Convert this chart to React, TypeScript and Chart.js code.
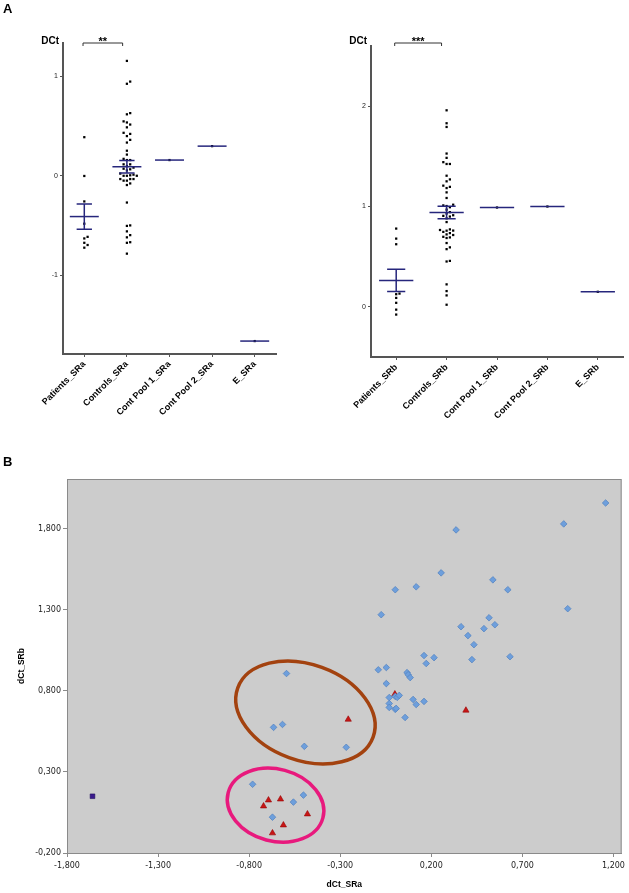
import React, { useEffect, useRef } from 'react';
import { Chart, registerables } from 'chart.js';

Chart.register(...registerables);

// ---------- DATA ----------
const labelsSRa = ['Patients_SRa', 'Controls_SRa', 'Cont Pool 1_SRa', 'Cont Pool 2_SRa', 'E_SRa'];
const labelsSRb = ['Patients_SRb', 'Controls_SRb', 'Cont Pool 1_SRb', 'Cont Pool 2_SRb', 'E_SRb'];

// paired patient values (SRa, SRb)
const patientsSRa = [0.39, 0.0, -0.256, -0.48, -0.612, -0.628, -0.672, -0.694, -0.721];
const patientsSRb = [0.68, 0.78, 0.624, 0.04, -0.028, 0.132, -0.077, 0.126, 0.089];

// paired control values (SRa, SRb)
const controlsSRa = [
  1.157, 0.927, 0.336, 0.254, 0.002, 0.117, 0.538, 0.62, 0.949, -0.075, 0.517, 0.549,
  0.363, 0.489, 0.401, 0.434, 0.16, 0.215, 0.172, 0.423, 0.632, -0.091, -0.047, -0.047,
  0.067, 0.073, 0.084, -0.031, 0.002, 0.013, 0.024, -0.031, -0.031, 0.002, 0.007, 0.1,
  0.117, 0.16, 0.056, -0.267, -0.497, -0.502, -0.595, -0.666, -0.617, -0.781, -0.557, -0.672,
];
const controlsSRb = [
  1.959, 1.83, 1.793, 1.528, 1.424, 1.442, 1.485, 1.424, 1.307, 1.27, 1.251, 1.208,
  1.196, 1.184, 1.141, 1.085, 1.018, 1.005, 0.969, 0.993, 1.011, 0.93, 0.944, 0.845,
  0.913, 0.9, 0.882, 0.759, 0.766, 0.76, 0.772, 0.722, 0.698, 0.686, 0.692, 0.747,
  0.716, 0.735, 0.636, 0.452, 0.458, 0.157, 0.907, 0.575, 0.593, 0.224, 0.114, 0.021,
];

const pool1SRa = [0.16];
const pool2SRa = [0.3];
const eSRa = [-1.66];
const pool1SRb = [0.99];
const pool2SRb = [1.0];
const eSRb = [0.15];

const yTicksSRa = [-1, 0, 1];
const yTicksSRb = [0, 1, 2];
const starsSRa = '**';
const starsSRb = '***';

const scatterXTicks = [-1.8, -1.3, -0.8, -0.3, 0.2, 0.7, 1.2];
const scatterYTicks = [-0.2, 0.3, 0.8, 1.3, 1.8];

// ---------- STYLE ----------
const ARIAL = "'Liberation Sans', Arial, sans-serif";
const VERDANA = "'DejaVu Sans', Verdana, sans-serif";
const NAVY = '#26267c';
const AXIS = '#555555';

function swarmOffsets(values: number[], pxPerUnit: number, pxPerCat: number, step: number): number[] {
  const order = values.map((_, i) => i).sort((a, b) => values[a] - values[b]);
  const placed: { x: number; y: number }[] = [];
  const offs = new Array(values.length).fill(0);
  for (const i of order) {
    const y = values[i] * pxPerUnit;
    for (let k = 0; k < 40; k++) {
      const s = k === 0 ? 0 : k % 2 === 1 ? Math.ceil(k / 2) : -Math.ceil(k / 2);
      const x = s * step;
      if (placed.every((p) => Math.hypot(p.x - x, p.y - y) >= step - 0.01)) {
        placed.push({ x, y });
        offs[i] = x / pxPerCat;
        break;
      }
    }
  }
  return offs;
}

function buildPoints(groups: number[][], pxPerUnit: number, pxPerCat: number) {
  const pts: { x: number; y: number }[] = [];
  groups.forEach((vals, gi) => {
    const offs = vals.length > 1 ? swarmOffsets(vals, pxPerUnit, pxPerCat, 3.3) : vals.map(() => 0);
    vals.forEach((v, k) => pts.push({ x: gi + offs[k], y: v }));
  });
  return pts;
}

type DotProps = {
  labels: string[];
  groups: number[][];
  yMin: number;
  yMax: number;
  yTicks: number[];
  stars: string;
  left: number;
  width: number;
  height: number;
  yAxisWidth: number;
  padTop: number;
  padRight: number;
  xAxisHeight: number;
  pxPerUnit: number;
  pxPerCat: number;
};

function DotPlot(p: DotProps) {
  const ref = useRef<HTMLCanvasElement>(null);
  useEffect(() => {
    const points = buildPoints(p.groups, p.pxPerUnit, p.pxPerCat);
    const statsPlugin = {
      id: 'stats',
      afterDatasetsDraw(chart: any) {
        const { ctx, scales } = chart;
        const x = scales.x;
        const y = scales.y;
        ctx.save();
        ctx.strokeStyle = NAVY;
        ctx.lineWidth = 1.5;
        p.groups.forEach((vals, i) => {
          const n = vals.length;
          const mean = vals.reduce((a, b) => a + b, 0) / n;
          const cx = x.getPixelForValue(i);
          const w = x.getPixelForValue(i + 0.34) - cx;
          const cw = x.getPixelForValue(i + 0.18) - cx;
          const my = y.getPixelForValue(mean);
          ctx.beginPath();
          ctx.moveTo(cx - w, my);
          ctx.lineTo(cx + w, my);
          ctx.stroke();
          if (n > 1) {
            const sd = Math.sqrt(vals.reduce((a, b) => a + (b - mean) ** 2, 0) / (n - 1));
            const sem = sd / Math.sqrt(n);
            const t = y.getPixelForValue(mean + sem);
            const b = y.getPixelForValue(mean - sem);
            ctx.beginPath();
            ctx.moveTo(cx, t);
            ctx.lineTo(cx, b);
            ctx.moveTo(cx - cw, t);
            ctx.lineTo(cx + cw, t);
            ctx.moveTo(cx - cw, b);
            ctx.lineTo(cx + cw, b);
            ctx.stroke();
          }
        });
        ctx.restore();
      },
      afterDraw(chart: any) {
        const { ctx, scales, chartArea } = chart;
        const x = scales.x;
        const x0 = x.getPixelForValue(-0.03);
        const x1 = x.getPixelForValue(0.9);
        const yb = 43;
        ctx.save();
        ctx.strokeStyle = '#333';
        ctx.lineWidth = 1;
        ctx.beginPath();
        ctx.moveTo(x0, yb + 3);
        ctx.lineTo(x0, yb);
        ctx.lineTo(x1, yb);
        ctx.lineTo(x1, yb + 3);
        ctx.stroke();
        ctx.fillStyle = '#000';
        ctx.font = `bold 11px ${ARIAL}`;
        ctx.textAlign = 'center';
        ctx.textBaseline = 'alphabetic';
        ctx.fillText(p.stars, (x0 + x1) / 2, yb + 1.5);
        ctx.font = `bold 10px ${ARIAL}`;
        ctx.textAlign = 'right';
        ctx.fillText('DCt', chartArea.left - 4, 43.5);
        ctx.restore();
      },
    };
    const chart = new Chart(ref.current!, {
      type: 'scatter',
      data: {
        datasets: [
          {
            data: points,
            pointStyle: 'rect',
            pointRadius: 1.6,
            pointHoverRadius: 1.6,
            backgroundColor: '#000',
            borderColor: '#000',
            borderWidth: 0,
          },
        ],
      },
      options: {
        responsive: false,
        animation: false,
        events: [],
        layout: { padding: { top: p.padTop, right: p.padRight, left: 0, bottom: 0 } },
        plugins: { legend: { display: false }, tooltip: { enabled: false } },
        scales: {
          x: {
            type: 'linear',
            min: -0.5,
            max: p.labels.length - 0.5,
            afterBuildTicks: (s: any) => {
              s.ticks = p.labels.map((_, i) => ({ value: i }));
            },
            afterFit: (s: any) => {
              s.height = p.xAxisHeight;
            },
            ticks: {
              autoSkip: false,
              minRotation: 45,
              maxRotation: 45,
              padding: 2,
              color: '#000',
              font: { family: ARIAL, size: 9, weight: 'bold' },
              callback: (v: any) => p.labels[Math.round(Number(v))],
            },
            grid: { display: true, drawOnChartArea: false, drawTicks: true, tickLength: 3, color: AXIS, lineWidth: 1 },
            border: { display: true, color: AXIS, width: 2 },
          },
          y: {
            type: 'linear',
            min: p.yMin,
            max: p.yMax,
            afterBuildTicks: (s: any) => {
              s.ticks = p.yTicks.map((v) => ({ value: v }));
            },
            afterFit: (s: any) => {
              s.width = p.yAxisWidth;
            },
            ticks: {
              padding: 2,
              color: '#222',
              font: { family: ARIAL, size: 7 },
              callback: (v: any) => String(v),
            },
            grid: { display: true, drawOnChartArea: false, drawTicks: true, tickLength: 3, color: AXIS, lineWidth: 1 },
            border: { display: true, color: AXIS, width: 2 },
          },
        },
      } as any,
      plugins: [statsPlugin],
    });
    return () => chart.destroy();
  }, []);
  return (
    <canvas
      ref={ref}
      width={p.width}
      height={p.height}
      style={{ position: 'absolute', left: p.left, top: 0, width: p.width, height: p.height }}
    />
  );
}

const fmt = (v: any) => Number(v).toFixed(3).replace('.', ',');

function ScatterB() {
  const ref = useRef<HTMLCanvasElement>(null);
  useEffect(() => {
    const plotPlugin = {
      id: 'plotbg',
      beforeDatasetsDraw(chart: any) {
        const { ctx, chartArea: a } = chart;
        ctx.save();
        ctx.fillStyle = '#cccccc';
        ctx.fillRect(a.left, a.top, a.right - a.left, a.bottom - a.top);
        ctx.strokeStyle = '#8a8a8a';
        ctx.lineWidth = 1;
        ctx.strokeRect(a.left + 0.5, a.top + 0.5, a.right - a.left - 1, a.bottom - a.top);
        ctx.restore();
      },
      afterDatasetsDraw(chart: any) {
        const { ctx, scales } = chart;
        const x = scales.x;
        const y = scales.y;
        const ellipses = [
          { cx: -0.491, cy: 0.667, rx: 72, ry: 48, rot: 20, color: '#a3420f' },
          { cx: -0.655, cy: 0.095, rx: 49, ry: 36, rot: 15, color: '#e8197d' },
        ];
        ctx.save();
        ctx.lineWidth = 3.5;
        ellipses.forEach((e) => {
          ctx.strokeStyle = e.color;
          ctx.beginPath();
          ctx.ellipse(x.getPixelForValue(e.cx), y.getPixelForValue(e.cy), e.rx, e.ry, (e.rot * Math.PI) / 180, 0, Math.PI * 2);
          ctx.stroke();
        });
        ctx.restore();
      },
    };
    const grid = { display: true, drawOnChartArea: false, drawTicks: true, tickLength: 4, color: '#8a8a8a', lineWidth: 1 };
    const chart = new Chart(ref.current!, {
      type: 'scatter',
      data: {
        datasets: [
          {
            label: 'Controls',
            data: controlsSRa.map((v, i) => ({ x: v, y: controlsSRb[i] })),
            pointStyle: 'rectRot',
            pointRadius: 3.3,
            pointHoverRadius: 3.3,
            backgroundColor: '#6e9fdc',
            borderColor: '#4f7fbf',
            borderWidth: 0.7,
          },
          {
            label: 'Patients',
            data: patientsSRa.map((v, i) => ({ x: v, y: patientsSRb[i] })),
            pointStyle: 'triangle',
            pointRadius: 3.6,
            pointHoverRadius: 3.6,
            backgroundColor: '#c81616',
            borderColor: '#960000',
            borderWidth: 0.6,
          },
          {
            label: 'E',
            data: eSRa.map((v, i) => ({ x: v, y: eSRb[i] })),
            pointStyle: 'rect',
            pointRadius: 3.3,
            pointHoverRadius: 3.3,
            backgroundColor: '#3a1a8c',
            borderColor: '#1c0c5c',
            borderWidth: 0.6,
          },
        ],
      },
      options: {
        responsive: false,
        animation: false,
        events: [],
        layout: { padding: { top: 9, right: 6, left: 0, bottom: 0 } },
        plugins: { legend: { display: false }, tooltip: { enabled: false } },
        scales: {
          x: {
            type: 'linear',
            min: -1.8,
            max: 1.245,
            afterBuildTicks: (s: any) => {
              s.ticks = scatterXTicks.map((v) => ({ value: v }));
            },
            afterFit: (s: any) => {
              s.height = 40;
            },
            ticks: { padding: 4, color: '#222', font: { family: VERDANA, size: 8 }, callback: fmt, maxRotation: 0, autoSkip: false },
            grid,
            border: { display: true, color: '#8a8a8a', width: 1 },
            title: { display: true, text: 'dCt_SRa', color: '#000', font: { family: ARIAL, size: 8.5, weight: 'bold' }, padding: { top: 0, bottom: 3 } },
          },
          y: {
            type: 'linear',
            min: -0.2,
            max: 2.107,
            afterBuildTicks: (s: any) => {
              s.ticks = scatterYTicks.map((v) => ({ value: v }));
            },
            afterFit: (s: any) => {
              s.width = 67;
            },
            ticks: { padding: 2, color: '#222', font: { family: VERDANA, size: 8 }, callback: fmt },
            grid,
            border: { display: true, color: '#8a8a8a', width: 1 },
            title: { display: true, text: 'dCt_SRb', color: '#000', font: { family: ARIAL, size: 8.5, weight: 'bold' }, padding: { top: 17, bottom: 0 } },
          },
        },
      } as any,
      plugins: [plotPlugin],
    });
    return () => chart.destroy();
  }, []);
  return (
    <canvas ref={ref} width={629} height={423} style={{ position: 'absolute', left: 0, top: 470, width: 629, height: 423 }} />
  );
}

export default function App() {
  return (
    <div style={{ position: 'absolute', left: 0, top: 0, width: 629, height: 893, background: '#fff', overflow: 'hidden' }}>
      <DotPlot
        labels={labelsSRa}
        groups={[patientsSRa, controlsSRa, pool1SRa, pool2SRa, eSRa]}
        yMin={-1.79}
        yMax={1.337}
        yTicks={yTicksSRa}
        stars={starsSRa}
        left={0}
        width={300}
        height={450}
        yAxisWidth={63}
        padTop={43}
        padRight={24}
        xAxisHeight={96}
        pxPerUnit={99.5}
        pxPerCat={42.6}
      />
      <DotPlot
        labels={labelsSRb}
        groups={[patientsSRb, controlsSRb, pool1SRb, pool2SRb, eSRb]}
        yMin={-0.5}
        yMax={2.6}
        yTicks={yTicksSRb}
        stars={starsSRb}
        left={310}
        width={319}
        height={450}
        yAxisWidth={61}
        padTop={46}
        padRight={6}
        xAxisHeight={93}
        pxPerUnit={100.5}
        pxPerCat={50.5}
      />
      <ScatterB />
      <div style={{ position: 'absolute', left: 3, top: 1, font: `bold 13px ${ARIAL}`, color: '#000' }}>A</div>
      <div style={{ position: 'absolute', left: 3, top: 454, font: `bold 13px ${ARIAL}`, color: '#000' }}>B</div>
    </div>
  );
}
